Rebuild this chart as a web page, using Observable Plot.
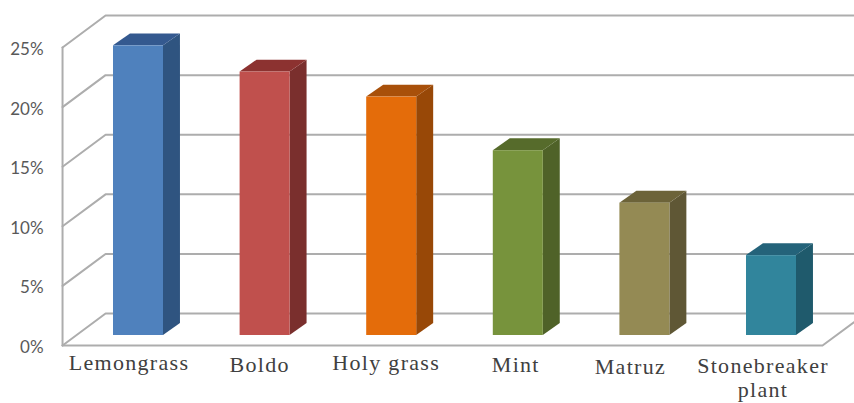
<!DOCTYPE html>
<html>
<head>
<meta charset="utf-8">
<style>
html,body{margin:0;padding:0;background:#fff;overflow:hidden}
svg{display:block}
.category, .category text, .category tspan{letter-spacing:1.3px}
</style>
<script src="https://cdn.jsdelivr.net/npm/d3@7"></script>
<script src="https://cdn.jsdelivr.net/npm/@observablehq/plot@0.6"></script>
</head>
<body>
<script>
// Data
const categories = ["Lemongrass","Boldo","Holy grass","Mint","Matruz","Stonebreaker\nplant"];
const values = [24.3,22.1,20.0,15.5,11.1,6.7];
const ticks = [0,5,10,15,20,25];
const frontColors = ["#4f81bd","#c0504d","#e46c0a","#77933c","#948a54","#31859c"];
const sideColors = ["#2f5480","#7a2f2d","#984807","#4f6228","#5f5735","#1f5a6c"];
const topColors = ["#34598f","#8c3230","#a8500a","#566b2b","#6c6339","#24637a"];
// Hand-placed labels of the source image
const labelDx = [3,7,7,10,-2,4];
const labelDy = [0,2,0,2,4,3];

// 3D projection constants, in scale units
const halfBar = 0.1975, barDX = 0.134, barDY = 1.0, barBase = 0.84;
const floorL = -0.6, floorR = 5.403, wallDX = 0.34, wallDY = 2.68;

const rows = categories.map((c,i)=>({c,i,v:values[i],front:frontColors[i],side:sideColors[i],top:topColors[i]}));

const sidePts = rows.flatMap(r=>{
  const x = r.i+halfBar, lo = barBase, hi = barBase+r.v;
  return [
    {i:r.i,x,y1:lo,y2:hi,fill:r.side},
    {i:r.i,x:x+barDX,y1:lo+barDY,y2:hi+barDY,fill:r.side}
  ];
});
const topPts = rows.flatMap(r=>{
  const a = r.i-halfBar, b = r.i+halfBar, t = barBase+r.v;
  return [
    {i:r.i,x:a,y1:t,y2:t,fill:r.top},
    {i:r.i,x:a+barDX,y1:t,y2:t+barDY,fill:r.top},
    {i:r.i,x:b,y1:t,y2:t+barDY,fill:r.top},
    {i:r.i,x:b+barDX,y1:t+barDY,y2:t+barDY,fill:r.top}
  ];
});
const wallPts = ticks.flatMap(v=>[
  {v,x:floorL,y:v},
  {v,x:floorL+wallDX,y:v+wallDY},
  {v,x:floorR+wallDX,y:v+wallDY}
]);
const gridStyle = {stroke:"#adadad",strokeWidth:2};

const chart = Plot.plot({
  width:854, height:403,
  marginTop:0, marginRight:0, marginBottom:0, marginLeft:0,
  x:{domain:[0,5],range:[138,771],axis:null},
  y:{domain:[0,25],range:[345,47],axis:null},
  style:{background:"#fff"},
  marks:[
    Plot.line(wallPts,{x:"x",y:"y",z:"v",...gridStyle}),
    Plot.line([{x:floorL,y:0},{x:floorL,y:25}],{x:"x",y:"y",...gridStyle}),
    Plot.line([{x:floorL,y:0},{x:floorR,y:0},{x:floorR+wallDX,y:wallDY}],{x:"x",y:"y",...gridStyle}),
    Plot.areaY(sidePts,{x:"x",y1:"y1",y2:"y2",z:"i",fill:"fill"}),
    Plot.areaY(topPts,{x:"x",y1:"y1",y2:"y2",z:"i",fill:"fill"}),
    Plot.rect(rows,{
      x1:d=>d.i-halfBar, x2:d=>d.i+halfBar,
      y1:barBase, y2:d=>barBase+d.v, fill:"front"
    }),
    Plot.text(ticks,{
      x:floorL, y:d=>d, text:d=>d+"%", dx:-19, dy:2, textAnchor:"end",
      fontFamily:"Lato", fontSize:17, fill:"#595959"
    }),
    ...rows.map(r=>Plot.text([r],{
      className:"category",
      x:d=>d.i-(138-125.5)/126.6, y:0, text:"c",
      dx:labelDx[r.i], dy:8+labelDy[r.i], lineAnchor:"top", lineHeight:1.08,
      fontFamily:"Liberation Serif", fontSize:22, fill:"#404040"
    }))
  ]
});
document.body.appendChild(chart);
</script>
</body>
</html>
